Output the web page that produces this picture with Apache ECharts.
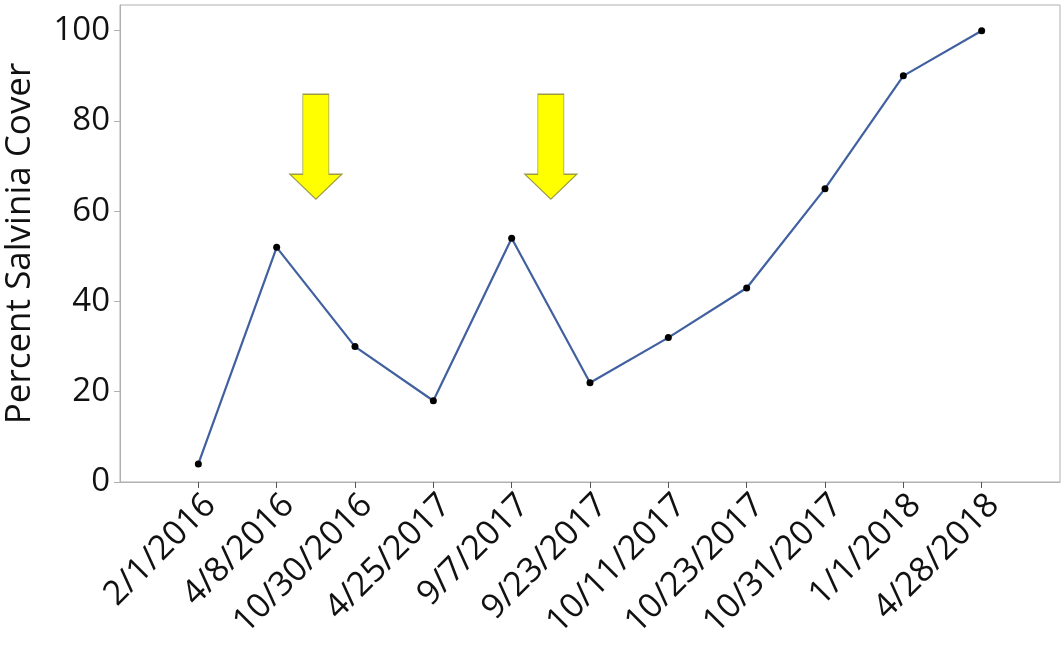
<!DOCTYPE html>
<html>
<head>
<meta charset="utf-8">
<script src="https://cdn.jsdelivr.net/npm/echarts@6/dist/echarts.min.js"></script>
<style>html,body{margin:0;padding:0;background:#fff;}#c{width:1064px;height:654px;}</style>
</head>
<body>
<div id="c"></div>
<script>
const categories = ['2/1/2016','4/8/2016','10/30/2016','4/25/2017','9/7/2017','9/23/2017','10/11/2017','10/23/2017','10/31/2017','1/1/2018','4/28/2018'];
const cover = [4, 52, 30, 18, 54, 22, 32, 43, 65, 90, 100];
const yTicks = [0, 20, 40, 60, 80, 100];
const arrowX = [2.5, 5.5];
const arrowTop = 85.9;
const arrowTip = 62.7;

const positions = categories.map((c, i) => i + 1);
const seriesData = cover.map((v, i) => [positions[i], v]);
const font = 'Open Sans';
const axisColor = '#b0b0b0';

const chart = echarts.init(document.getElementById('c'));
chart.setOption({
  animation: false,
  backgroundColor: '#fff',
  grid: { left: 120, right: 4, top: 5, bottom: 172, show: true, borderColor: axisColor, borderWidth: 1, outerBoundsMode: 'none', containLabel: false },
  xAxis: {
    type: 'value', min: 0, max: categories.length + 1,
    splitLine: { show: false },
    axisLine: { show: true, lineStyle: { color: axisColor } },
    axisTick: { show: true, length: 6, lineStyle: { color: '#555' }, customValues: positions },
    axisLabel: {
      customValues: positions, rotate: 45, margin: 6, verticalAlign: 'top',
      fontFamily: font, fontSize: 34, color: '#111',
      formatter: v => categories[Math.round(v) - 1] || ''
    }
  },
  yAxis: {
    type: 'value', min: 0, max: 105.7,
    name: 'Percent Salvinia Cover', nameLocation: 'middle', nameGap: 82,
    nameTextStyle: { fontFamily: font, fontSize: 35, color: '#111' },
    splitLine: { show: false },
    axisLine: { show: true, lineStyle: { color: axisColor } },
    axisTick: { show: true, length: 6, lineStyle: { color: axisColor }, customValues: yTicks },
    axisLabel: { customValues: yTicks, fontFamily: font, fontSize: 33, color: '#111', margin: 10 }
  },
  series: [{
    type: 'line',
    data: seriesData,
    symbol: 'circle', symbolSize: 7,
    itemStyle: { color: '#000' },
    lineStyle: { color: '#4060a0', width: 2.2 },
    markPoint: {
      symbol: 'path://M13,0 L39,0 L39,80 L52,80 L26,105 L0,80 L13,80 Z',
      symbolSize: [52, 105],
      label: { show: false },
      itemStyle: { color: '#ffff00', borderColor: '#9c9c48', borderWidth: 1 },
      data: arrowX.map(x => ({ coord: [x, (arrowTop + arrowTip) / 2] }))
    }
  }]
});
</script>
</body>
</html>
